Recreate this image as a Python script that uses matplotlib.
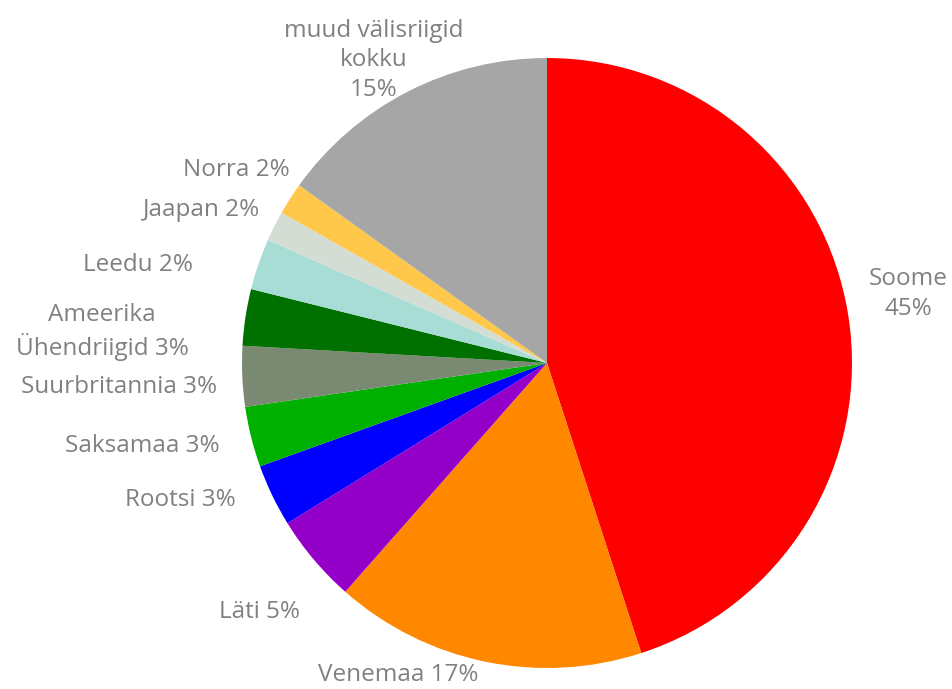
import matplotlib
matplotlib.use("Agg")
import matplotlib.pyplot as plt

countries = ["Soome", "Venemaa", "Läti", "Rootsi", "Saksamaa", "Suurbritannia",
             "Ameerika\nÜhendriigid", "Leedu", "Jaapan", "Norra", "muud välisriigid\nkokku"]
shares = [45.0, 16.5, 4.7, 3.3, 3.2, 3.2, 3.0, 2.7, 1.6, 1.7, 15.1]
share_labels = ["45%", "17%", "5%", "3%", "3%", "3%", "3%", "2%", "2%", "2%", "15%"]
colors = ["#ff0000", "#ff8800", "#9400c8", "#0000ff", "#00b000", "#7a8a72",
          "#007000", "#a8ddd5", "#d4ddd4", "#ffc84a", "#a6a6a6"]

# label placement (data coords, pie radius = 1) and alignment
label_pos = [(1.184, 0.226), (-0.489, -1.024), (-0.941, -0.816), (-1.020, -0.449),
             (-1.072, -0.272), (-1.082, -0.079), (-1.459, 0.102), (-1.161, 0.321),
             (-0.941, 0.502), (-0.843, 0.633), (-0.567, 0.993)]
label_ha = ["center", "center", "center", "right", "right", "right", "center",
            "right", "right", "right", "center"]
label_sep = ["\n", " ", " ", " ", " ", " ", " ", " ", " ", " ", "\n"]

plt.rcParams['font.family'] = ['Open Sans', 'DejaVu Sans']

fig = plt.figure(figsize=(9.53, 6.89), dpi=100)
ax = fig.add_axes([242 / 953, 21 / 689, 610 / 953, 610 / 689])
ax.pie(shares, colors=colors, startangle=90, counterclock=False, radius=1,
       wedgeprops=dict(linewidth=0))
ax.set_xlim(-1, 1)
ax.set_ylim(-1, 1)
ax.set_aspect("equal")
ax.axis("off")

for name, pct, pos, ha, sep in zip(countries, share_labels, label_pos, label_ha, label_sep):
    ax.text(pos[0], pos[1], name + sep + pct, ha=ha, va="center", fontsize=17.5,
            color="#808080", linespacing=1.3, multialignment="center", clip_on=False)

fig.savefig("out.png", dpi=100)
